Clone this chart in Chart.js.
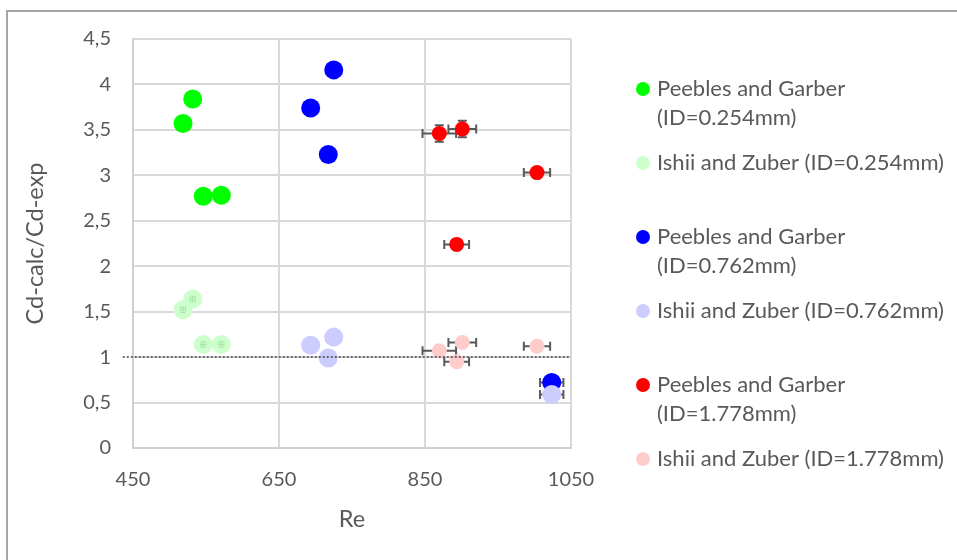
<!DOCTYPE html>
<html>
<head>
<meta charset="utf-8">
<script src="https://cdn.jsdelivr.net/npm/chart.js@4.4.1/dist/chart.umd.min.js"></script>
<style>
  html, body { margin: 0; padding: 0; background: #fff; }
  #wrap { position: relative; width: 957px; height: 560px; overflow: hidden; }
  #frame { position: absolute; left: 6px; top: 10px; width: 1000px; height: 600px;
           border-left: 2px solid #a6a6a6; border-top: 2px solid #a6a6a6; }
  #c { position: absolute; left: 0; top: 0; }
</style>
</head>
<body>
<div id="wrap">
  <div id="frame"></div>
  <canvas id="c" width="957" height="560"></canvas>
</div>
<script>
// Series: Reynolds number and Cd-calc/Cd-exp ratio, one pair of arrays per series
const seriesLabels = [
  ['Peebles and Garber', '(ID=0.254mm)'],
  ['Ishii and Zuber (ID=0.254mm)'],
  ['Peebles and Garber', '(ID=0.762mm)'],
  ['Ishii and Zuber (ID=0.762mm)'],
  ['Peebles and Garber', '(ID=1.778mm)'],
  ['Ishii and Zuber (ID=1.778mm)']
];

const reID254 = [518.5, 531.8, 546.3, 571.0];
const pgID254 = [3.57, 3.84, 2.77, 2.78];
const izID254 = [1.52, 1.64, 1.14, 1.14];
const reErrID254 = [3.5, 3.5, 3.5, 3.5];
const cdErrID254 = [0.03, 0.03, 0.03, 0.03];

const reID762 = [693.4, 717.5, 725.0, 1023.6];
const pgID762 = [3.74, 3.23, 4.16, 0.72];
const izID762 = [1.13, 0.99, 1.22, 0.59];
const reErrID762 = [0, 0, 0, 16];

const reID1778 = [869.6, 901.1, 893.4, 1003.4];
const pgID1778 = [3.46, 3.51, 2.24, 3.03];
const izID1778 = [1.07, 1.16, 0.95, 1.12];
const reErrID1778 = [23, 19, 17, 18];
const pgCdErrID1778 = [0.09, 0.09, 0, 0];

// Reference line Cd-calc/Cd-exp = 1
const refRe = [436, 1050];
const refCd = [1, 1];

const xTicks = [450, 650, 850, 1050];
const yTicks = [0, 0.5, 1, 1.5, 2, 2.5, 3, 3.5, 4, 4.5];

const pts = (xs, ys) => xs.map((v, i) => ({ x: v, y: ys[i] }));
const zeros = n => new Array(n).fill(0);

const FONT = 'Lato, "Noto Sans", sans-serif';
const TXT = '#595959';

// Horizontal / vertical error bars drawn through the chart scales
const errorBars = {
  id: 'errorBars',
  beforeDatasetsDraw(chart) { drawErr(chart, false); },
  afterDatasetsDraw(chart) { drawErr(chart, true); }
};
function drawErr(chart, onTop) {
  const { ctx, scales: { x, y } } = chart;
  chart.data.datasets.forEach(ds => {
    if (!ds.errX || !!ds.errOnTop !== onTop) return;
    ctx.save();
    ctx.strokeStyle = ds.errColor;
    ctx.lineWidth = ds.errWidth;
    const cap = ds.errCap;
    ds.data.forEach((p, j) => {
      const ex = ds.errX[j], ey = ds.errY[j];
      const px = x.getPixelForValue(p.x), py = y.getPixelForValue(p.y);
      ctx.beginPath();
      if (ex) {
        const l = x.getPixelForValue(p.x - ex), r = x.getPixelForValue(p.x + ex);
        ctx.moveTo(l, py); ctx.lineTo(r, py);
        ctx.moveTo(l, py - cap); ctx.lineTo(l, py + cap);
        ctx.moveTo(r, py - cap); ctx.lineTo(r, py + cap);
      }
      if (ey) {
        const t = y.getPixelForValue(p.y + ey), b = y.getPixelForValue(p.y - ey);
        ctx.moveTo(px, t); ctx.lineTo(px, b);
        ctx.moveTo(px - cap, t); ctx.lineTo(px + cap, t);
        ctx.moveTo(px - cap, b); ctx.lineTo(px + cap, b);
      }
      ctx.stroke();
    });
    ctx.restore();
  });
}

// Legend on the right with wrapped labels
const sideLegend = {
  id: 'sideLegend',
  afterDraw(chart, args, o) {
    const ctx = chart.ctx;
    ctx.save();
    ctx.font = `${o.size}px ${FONT}`;
    ctx.textBaseline = 'middle';
    let yy = o.top;
    chart.data.datasets.forEach(ds => {
      if (!ds.legendLines) return;
      ctx.fillStyle = ds.backgroundColor;
      ctx.beginPath();
      ctx.arc(o.markerX, yy, o.markerR, 0, Math.PI * 2);
      ctx.fill();
      ctx.fillStyle = TXT;
      ds.legendLines.forEach((t, k) => ctx.fillText(t, o.textX, yy + k * o.lineH));
      yy += o.step;
    });
    ctx.restore();
  }
};

function scatterSet(i, xs, ys, color, r, ex, ey, extra) {
  return Object.assign({
    type: 'scatter',
    label: seriesLabels[i].join(' '),
    legendLines: seriesLabels[i],
    data: pts(xs, ys),
    backgroundColor: color,
    borderWidth: 0,
    pointRadius: r,
    pointHoverRadius: r,
    order: 10 - i,
    errX: ex, errY: ey,
    errColor: '#595959', errWidth: 2, errCap: 4.5
  }, extra || {});
}

const datasets = [
  scatterSet(0, reID254, pgID254, '#00ff00', 9.5),
  scatterSet(1, reID254, izID254, '#ccffcc', 9.5, reErrID254, cdErrID254,
    { errOnTop: true, errColor: 'rgba(110,190,110,0.35)', errWidth: 1, errCap: 2.5 }),
  scatterSet(2, reID762, pgID762, '#0000ff', 9.5, reErrID762, zeros(4)),
  scatterSet(3, reID762, izID762, '#ccccff', 9.5, reErrID762, zeros(4)),
  scatterSet(4, reID1778, pgID1778, '#ff0000', 7.5, reErrID1778, pgCdErrID1778),
  scatterSet(5, reID1778, izID1778, '#ffcccc', 7.5, reErrID1778, zeros(4)),
  {
    type: 'line',
    data: pts(refRe, refCd),
    borderColor: '#404040',
    borderWidth: 1.5,
    borderDash: [2, 2],
    pointRadius: 0,
    fill: false,
    clip: false,
    order: 0
  }
];

new Chart(document.getElementById('c'), {
  type: 'scatter',
  data: { datasets },
  options: {
    responsive: false,
    animation: false,
    events: [],
    layout: { padding: { left: 0, top: 39, right: 386, bottom: 0 } },
    plugins: {
      legend: { display: false },
      tooltip: { enabled: false },
      sideLegend: { size: 22, top: 89, step: 74, lineH: 29, markerX: 643, markerR: 7, textX: 657 }
    },
    scales: {
      x: {
        type: 'linear', min: 450, max: 1050,
        afterFit: s => { s.height = 112; },
        afterBuildTicks: s => { s.ticks = xTicks.map(v => ({ value: v })); },
        ticks: { color: TXT, font: { family: FONT, size: 20 }, padding: 20, callback: v => String(v) },
        grid: { color: '#d9d9d9', lineWidth: 2, drawTicks: false },
        border: { color: '#d0d0d0', width: 2 },
        title: { display: true, text: 'Re', color: TXT, font: { family: FONT, size: 23.5 }, padding: { top: 0, bottom: 26 } }
      },
      y: {
        type: 'linear', min: 0, max: 4.5,
        afterFit: s => { s.width = 133; },
        afterBuildTicks: s => { s.ticks = yTicks.map(v => ({ value: v })); },
        ticks: { color: TXT, font: { family: FONT, size: 20 }, padding: 22, callback: v => String(v).replace('.', ',') },
        grid: { color: '#d9d9d9', lineWidth: 2, drawTicks: false },
        border: { color: '#d0d0d0', width: 2 },
        title: { display: true, text: 'Cd-calc/Cd-exp', color: TXT, font: { family: FONT, size: 23.5 }, padding: { top: 21, bottom: 0 } }
      }
    }
  },
  plugins: [errorBars, sideLegend]
});
</script>
</body>
</html>
